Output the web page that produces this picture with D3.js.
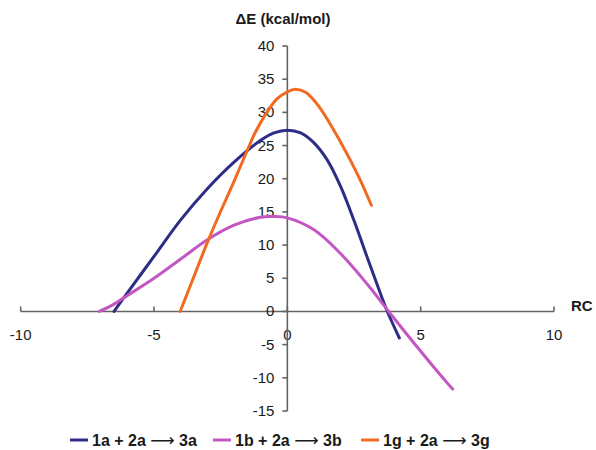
<!DOCTYPE html>
<html>
<head>
<meta charset="utf-8">
<script src="https://cdn.jsdelivr.net/npm/d3@7"></script>
<style>
  body { margin: 0; background: #fff; }
  text { font-family: Arial, "Liberation Sans", sans-serif; fill: #1a1a1a; }
</style>
</head>
<body>
<script>
// reaction coordinate / energy profiles
let rc1a = [-6.5, -6, -5, -4, -3, -2, -1, -0.5, 0, 0.5, 1, 1.5, 2, 2.5, 3, 3.5, 3.75, 4.2];
let e1a = [0, 2.8, 8.3, 13.8, 18.5, 22.5, 25.8, 26.9, 27.3, 26.9, 25.4, 22.8, 18.8, 13.7, 8.1, 2.6, 0, -4.0];

let rc1b = [-7.05, -6.5, -6, -5, -4, -3, -2, -1, -0.5, 0, 1, 2, 3, 3.8, 5, 6, 6.2];
let e1b = [0, 1.1, 2.4, 5.0, 7.9, 10.8, 13.0, 14.2, 14.3, 14.1, 12.3, 8.7, 4.1, 0, -6.0, -10.8, -11.7];

let rc1g = [-4.02, -3.5, -3, -2.5, -2, -1.5, -1.2, -0.8, -0.4, 0, 0.3, 0.7, 1.2, 2, 2.7, 3.15];
let e1g = [0, 5.3, 10.4, 15.1, 19.6, 24.3, 27.0, 29.8, 32.0, 33.1, 33.5, 33.0, 30.8, 25.5, 20.1, 16.0];

let seriesNames = [['1a + 2a', '3a'], ['1b + 2a', '3b'], ['1g + 2a', '3g']];
let seriesColors = ['#2e2d86', '#c456c2', '#f26a22'];
let xTicks = [-10, -5, 0, 5, 10];
let yTicks = [-15, -10, -5, 0, 5, 10, 15, 20, 25, 30, 35, 40];

let series = [
  {name: seriesNames[0], color: seriesColors[0], pts: rc1a.map((x, i) => [x, e1a[i]])},
  {name: seriesNames[1], color: seriesColors[1], pts: rc1b.map((x, i) => [x, e1b[i]])},
  {name: seriesNames[2], color: seriesColors[2], pts: rc1g.map((x, i) => [x, e1g[i]])}
];

let svg = d3.select('body').append('svg').attr('width', 596).attr('height', 450);

let x = d3.scaleLinear().domain([-10, 10]).range([20.7, 554]);
let y = d3.scaleLinear().domain([-15, 40]).range([411, 46]);

let axisColor = '#646464';

// x axis through y = 0, ticks pointing up
let xg = svg.append('g');
xg.append('line')
  .attr('x1', x(-10)).attr('x2', x(10))
  .attr('y1', y(0)).attr('y2', y(0))
  .attr('stroke', axisColor).attr('stroke-width', 1.6);
xg.selectAll('.xt').data(xTicks).enter().append('line')
  .attr('x1', d => x(d)).attr('x2', d => x(d))
  .attr('y1', y(0)).attr('y2', y(0) - 5)
  .attr('stroke', axisColor).attr('stroke-width', 1.6);
xg.selectAll('.xl').data(xTicks).enter().append('text')
  .attr('x', d => x(d)).attr('y', y(0) + 29)
  .attr('text-anchor', 'middle')
  .attr('font-size', '15px')
  .text(d => d);

// y axis through x = 0, ticks pointing left
let yg = svg.append('g');
yg.append('line')
  .attr('x1', x(0)).attr('x2', x(0))
  .attr('y1', y(-15)).attr('y2', y(40))
  .attr('stroke', axisColor).attr('stroke-width', 1.6);
yg.selectAll('.yt').data(yTicks).enter().append('line')
  .attr('x1', x(0) - 5).attr('x2', x(0))
  .attr('y1', d => y(d)).attr('y2', d => y(d))
  .attr('stroke', axisColor).attr('stroke-width', 1.6);
yg.selectAll('.yl').data(yTicks).enter().append('text')
  .attr('x', x(0) - 13).attr('y', d => y(d) + 5)
  .attr('text-anchor', 'end')
  .attr('font-size', '15px')
  .text(d => d);

// axis titles
svg.append('text')
  .attr('x', 283).attr('y', 24)
  .attr('text-anchor', 'middle')
  .attr('font-size', '15px').attr('font-weight', 'bold')
  .text('\u0394E (kcal/mol)');
svg.append('text')
  .attr('x', 571).attr('y', 311)
  .attr('font-size', '15px').attr('font-weight', 'bold')
  .text('RC');

// curves
let line = d3.line()
  .x(d => x(d[0]))
  .y(d => y(d[1]))
  .curve(d3.curveCatmullRom.alpha(0.5));

svg.selectAll('.curve').data(series).enter().append('path')
  .attr('d', d => line(d.pts))
  .attr('fill', 'none')
  .attr('stroke', d => d.color)
  .attr('stroke-width', 3)
  .attr('stroke-linecap', 'round');

// legend
let legendX = [70, 213, 361];
let leg = svg.selectAll('.leg').data(series).enter().append('g')
  .attr('transform', (d, i) => 'translate(' + legendX[i] + ',440)');
leg.append('line')
  .attr('x1', 0).attr('x2', 18)
  .attr('stroke', d => d.color).attr('stroke-width', 3);
let lt = leg.append('text')
  .attr('x', 22).attr('y', 6)
  .attr('font-size', '16px').attr('font-weight', 'bold');
lt.append('tspan').text(d => d.name[0] + ' ');
lt.append('tspan')
  .attr('font-family', '"DejaVu Sans", sans-serif')
  .attr('font-weight', 'normal')
  .attr('font-size', '17px')
  .text('\u27f6');
lt.append('tspan').text(d => ' ' + d.name[1]);
</script>
</body>
</html>
